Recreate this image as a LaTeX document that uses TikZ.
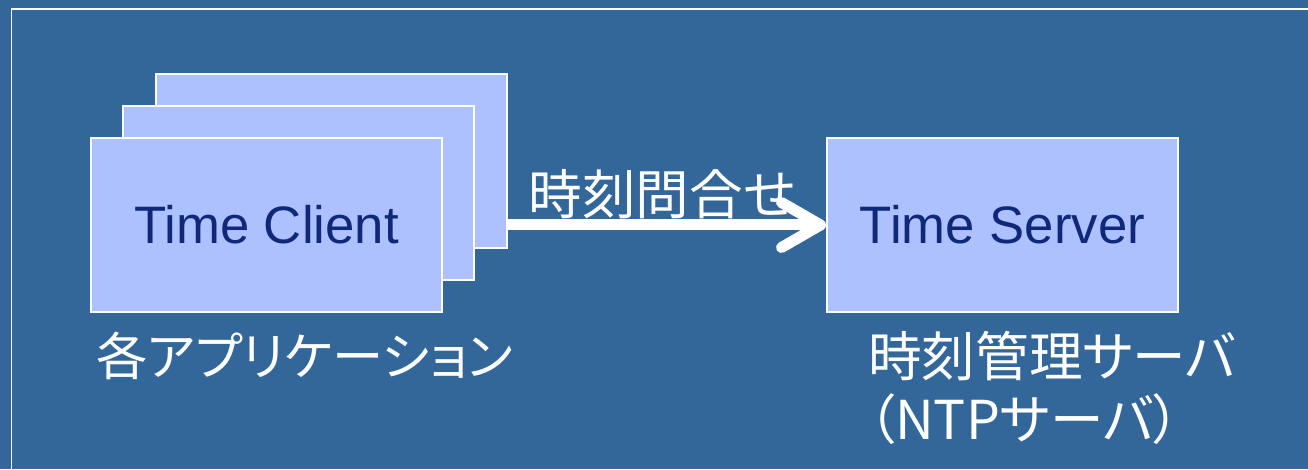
\documentclass[tikz,border=0pt]{standalone}
\usepackage{fontspec}
\setmainfont{Liberation Sans}
\newfontfamily\jpfont[RawFeature=+palt]{Noto Sans CJK JP}
\usepackage{xcolor}
\usepackage{tikz}
\usetikzlibrary{positioning,arrows.meta}
\definecolor{slideblue}{RGB}{51,102,153}
\definecolor{cardfill}{RGB}{173,192,255}
\definecolor{cardtext}{RGB}{16,40,120}

\begin{document}
\begin{tikzpicture}[ntp box/.style={draw=white, line width=0.04cm, fill=cardfill, text=cardtext, minimum width=7.02cm, minimum height=3.48cm, font=\fontsize{30}{34}\selectfont}, jp label/.style={text=white, inner sep=0pt, align=left, font=\jpfont\fontsize{30.5}{36}\selectfont}, node distance=14.72cm]
    \useasboundingbox (0,0) rectangle (26.16,9.38);
    \clip (0,0) rectangle (26.16,9.38);
    \fill[slideblue] (0,0) rectangle (26.16,9.38);
    \draw[white, line width=0.035cm] (0.23,-0.5) |- (27,9.2);

    % stacked client windows
    \node[ntp box] (back) at (6.62,6.16) {};
    \node[ntp box] (middle) at ([shift={(-0.645,-0.64)}]back) {};
    \node[ntp box] (client) at ([shift={(-0.645,-0.64)}]middle) {Time Client};
    \node[ntp box, right of=client] (server) {Time Server};

    \node[jp label, font=\jpfont\fontsize{29.2}{36}\selectfont, below right=0.38cm and 0.12cm of client.south west] (apps) {各アプリケーション};
    \node[jp label, below right=0.36cm and 0.84cm of server.south west] (ntp) {時刻管理サーバ\\（NTPサーバ）};

    \draw[white, line width=0.22cm, -{Straight Barb[length=0.78cm, width=0.9cm, round]}] (back.east |- client) -- node[jp label, midway, above=0.02cm, xshift=-0.1cm] (query) {時刻問合せ} (server.west);

\end{tikzpicture}
\end{document}
